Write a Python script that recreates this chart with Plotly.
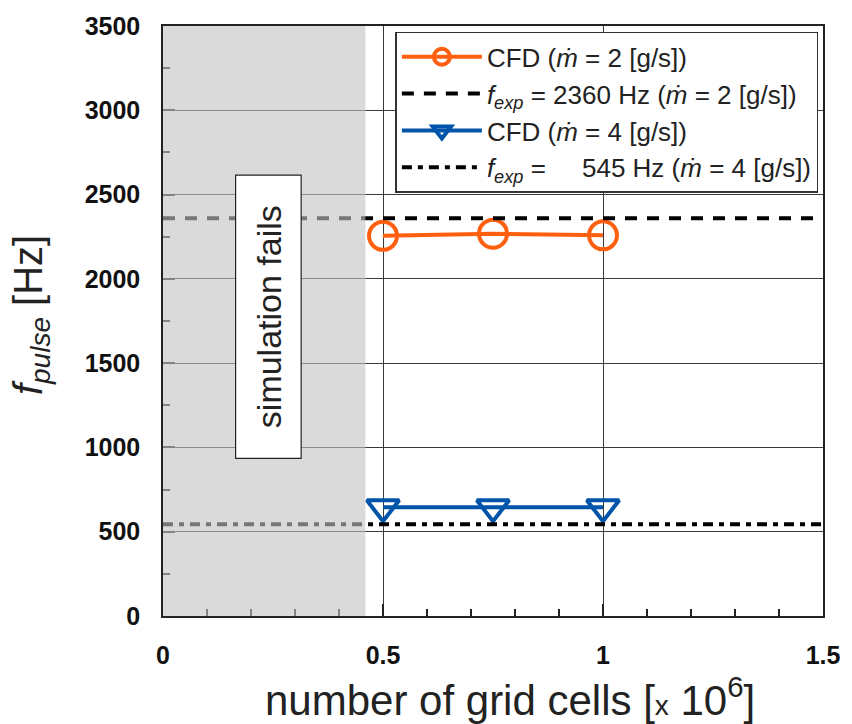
import plotly.graph_objects as go

# ---- data ----
grid_cells = [0.5, 0.75, 1.0]            # x 10^6
f_cfd_m2 = [2255, 2268, 2258]            # Hz
f_cfd_m4 = [645, 645, 645]               # Hz
f_exp_m2 = 2360
f_exp_m4 = 545
x_span = [0, 1.5]
fail_limit = 0.46                        # simulation fails below this
fail_box_x = [0.165, 0.314]
fail_box_y = [935, 2615]

ORANGE = "#FF6010"
BLUE = "#0055AA"
FONT = "Liberation Sans, Arial, sans-serif"
MDOT = "<i>\u1e41</i>"

fig = go.Figure()
fig.add_trace(go.Scatter(
    x=grid_cells, y=f_cfd_m2, mode="lines+markers",
    name=f"CFD ({MDOT} = 2 [g/s])",
    line=dict(color=ORANGE, width=4),
    marker=dict(symbol="circle-open", size=28, color=ORANGE, line=dict(width=4, color=ORANGE)),
))
fig.add_trace(go.Scatter(
    x=x_span, y=[f_exp_m2, f_exp_m2], mode="lines",
    name=f"<i>f</i><sub><i>exp</i></sub> = 2360 Hz ({MDOT} = 2 [g/s])",
    line=dict(color="black", width=4, dash="12px,10px"),
))
fig.add_trace(go.Scatter(
    x=grid_cells, y=f_cfd_m4, mode="lines+markers",
    name=f"CFD ({MDOT} = 4 [g/s])",
    line=dict(color=BLUE, width=4),
    marker=dict(symbol="triangle-down-open", size=28, color=BLUE, line=dict(width=4, color=BLUE)),
))
fig.add_trace(go.Scatter(
    x=x_span, y=[f_exp_m4, f_exp_m4], mode="lines",
    name=f"<i>f</i><sub><i>exp</i></sub> = \u2007\u2007545 Hz ({MDOT} = 4 [g/s])",
    line=dict(color="black", width=4, dash="10px,6px,5px,6px"),
))

# shaded "simulation fails" region (semi-transparent, above traces)
fig.add_shape(type="rect", xref="x", yref="y", x0=x_span[0], x1=fail_limit, y0=0, y1=3500,
              fillcolor="rgba(195,195,195,0.61)", line=dict(width=0), layer="above")
fig.add_shape(type="rect", xref="x", yref="y", x0=fail_box_x[0], x1=fail_box_x[1],
              y0=fail_box_y[0], y1=fail_box_y[1],
              fillcolor="white", line=dict(width=1.2, color="#222"), layer="above")
fig.add_annotation(x=sum(fail_box_x) / 2, y=sum(fail_box_y) / 2, xref="x", yref="y",
                   text="simulation fails", textangle=-90, showarrow=False,
                   font=dict(family=FONT, size=34, color="#222"))

# axis titles
fig.add_annotation(x=0.525, y=-0.138, xref="paper", yref="paper", xanchor="center", yanchor="middle",
                   text="number of grid cells [<span style='font-size:28px'>x</span> 10<sup>6</sup>]",
                   showarrow=False, font=dict(family=FONT, size=42, color="#222"))
fig.add_annotation(x=-0.2, y=0.51, xref="paper", yref="paper", xanchor="center", yanchor="middle",
                   text="<i>f</i><sub><i>pulse</i></sub> [Hz]", textangle=-90,
                   showarrow=False, font=dict(family=FONT, size=40, color="#222"))

axis_common = dict(
    showline=True, linecolor="#222", linewidth=1.5, mirror=True,
    showgrid=True, gridcolor="#3a3a3a", gridwidth=1, zeroline=False,
    ticks="inside", tickcolor="#222", tickwidth=1.5, ticklen=12,
    tickfont=dict(family=FONT, size=25, color="#111", weight="bold"),
    ticklabelstandoff=16,
)
fig.update_xaxes(range=x_span, dtick=0.5, tick0=0,
                 minor=dict(ticks="inside", dtick=0.1, ticklen=7, tickcolor="#222", showgrid=False),
                 **axis_common)
fig.update_yaxes(range=[0, 3500], dtick=500, tick0=0,
                 minor=dict(ticks="inside", dtick=250, ticklen=7, tickcolor="#222", showgrid=False),
                 **axis_common)

fig.update_layout(
    width=852, height=724,
    margin=dict(l=163, r=24, t=20, b=108),
    plot_bgcolor="white", paper_bgcolor="white",
    font=dict(family=FONT, color="#222"),
    showlegend=True,
    legend=dict(x=0.993, y=0.99, xanchor="right", yanchor="top",
                bgcolor="white", bordercolor="#333", borderwidth=1.5,
                font=dict(family=FONT, size=26, color="#222"),
                itemwidth=80, tracegroupgap=0),
)

fig.write_html("out.html")
